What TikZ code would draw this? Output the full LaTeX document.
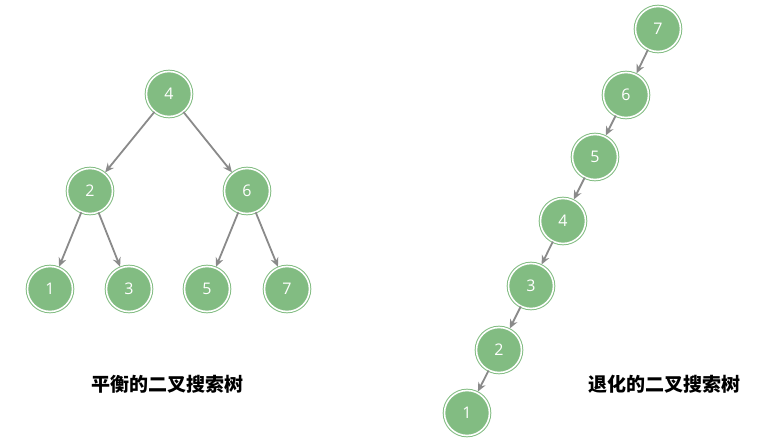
\documentclass[tikz,border=0pt]{standalone}
\usepackage{fontspec}
\setmainfont{Open Sans}
\newfontfamily\cjk{Noto Sans CJK SC}
\usetikzlibrary{arrows.meta}
\definecolor{ng}{HTML}{82BC82}
\definecolor{ar}{HTML}{8A8A8A}
\begin{document}
\begin{tikzpicture}[x=1pt,y=-1pt,
 nd/.style={circle,fill=ng,draw=ng,double=white,double distance=1.6pt,line width=1pt,minimum size=45pt,inner sep=0pt,text=white,font=\fontsize{16}{16}\selectfont},
 ed/.style={draw=ar,line width=1.8pt,-{Stealth[length=9pt,width=8pt]},shorten >=1pt},
 lb/.style={font=\cjk\bfseries\fontsize{19}{19}\selectfont}]
\useasboundingbox (0,0) rectangle (758,446);
\node[nd] (a4) at (169,94) {4};
\node[nd] (a2) at (90,191) {2};
\node[nd] (a6) at (247,191) {6};
\node[nd] (a1) at (50,289) {1};
\node[nd] (a3) at (129,289) {3};
\node[nd] (a5) at (207,289) {5};
\node[nd] (a7) at (287,289) {7};
\draw[ed] (a4)--(a2); \draw[ed] (a4)--(a6);
\draw[ed] (a2)--(a1); \draw[ed] (a2)--(a3);
\draw[ed] (a6)--(a5); \draw[ed] (a6)--(a7);
\node[nd] (b7) at (658,29) {7};
\node[nd] (b6) at (626,95) {6};
\node[nd] (b5) at (595,157) {5};
\node[nd] (b4) at (563,221) {4};
\node[nd] (b3) at (531,286) {3};
\node[nd] (b2) at (499,350) {2};
\node[nd] (b1) at (467,413) {1};
\draw[ed] (b7)--(b6); \draw[ed] (b6)--(b5); \draw[ed] (b5)--(b4);
\draw[ed] (b4)--(b3); \draw[ed] (b3)--(b2); \draw[ed] (b2)--(b1);
\node[lb] (t1) at (167,384) {平衡的二叉搜索树};
\node[lb] (t2) at (664,384) {退化的二叉搜索树};
\end{tikzpicture}
\end{document}
